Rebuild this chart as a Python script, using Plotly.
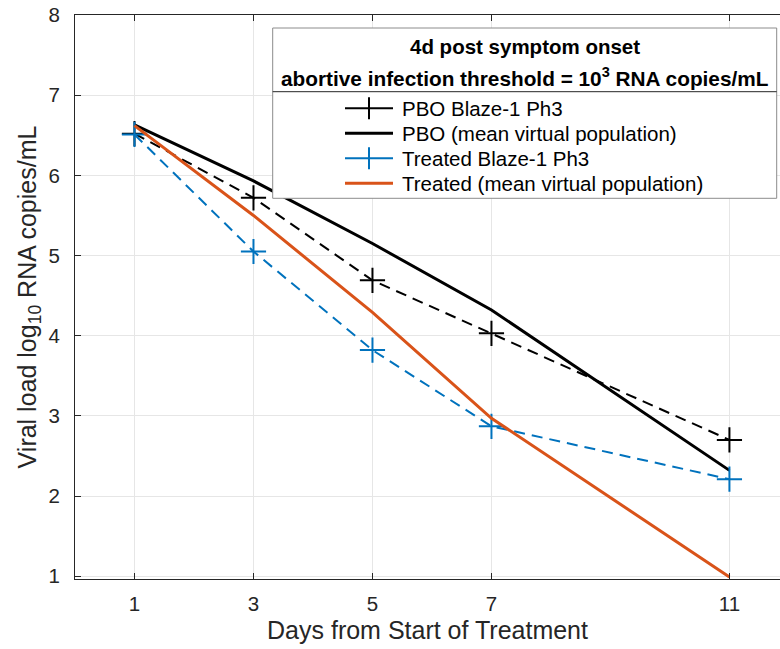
import plotly.graph_objects as go

days = [1, 3, 5, 7, 11]
pbo_trial = [6.52, 5.72, 4.69, 4.03, 2.70]
pbo_mean = [6.63, 5.93, 5.15, 4.32, 2.32]
trt_trial = [6.51, 5.05, 3.82, 2.87, 2.21]
trt_mean = [6.62, 5.50, 4.29, 2.97, 0.99]

x_ticks = [1, 3, 5, 7, 11]
y_ticks = [1, 2, 3, 4, 5, 6, 7, 8]

names = ["PBO Blaze-1 Ph3", "PBO (mean virtual population)",
         "Treated Blaze-1 Ph3", "Treated (mean virtual population)"]

BLUE = "#0072BD"
ORANGE = "#D95319"
AX = "#262626"
FONT = "Liberation Sans, Arial, Helvetica, sans-serif"
DASH = "11px,7px"

W, H = 780, 649
ML, MR, MT, MB = 75, 0, 15, 70
PW, PH = W - ML - MR, H - MT - MB


def px(xp):
    return (xp - ML) / PW


def py(yp):
    return (H - MB - yp) / PH


fig = go.Figure()
fig.add_trace(go.Scatter(
    x=days, y=pbo_trial, mode="lines+markers", name=names[0],
    line=dict(color="black", width=2, dash=DASH),
    marker=dict(symbol="cross-thin", size=18, line=dict(color="black", width=2)),
))
fig.add_trace(go.Scatter(
    x=days, y=pbo_mean, mode="lines", name=names[1],
    line=dict(color="black", width=3),
))
fig.add_trace(go.Scatter(
    x=days, y=trt_trial, mode="lines+markers", name=names[2],
    line=dict(color=BLUE, width=2, dash=DASH),
    marker=dict(symbol="cross-thin", size=18, color=BLUE, line=dict(color=BLUE, width=2)),
))
fig.add_trace(go.Scatter(
    x=days, y=trt_mean, mode="lines", name=names[3],
    line=dict(color=ORANGE, width=3),
))

# legend box, separator and title
x0, x1 = px(272.7), px(776.7)
fig.add_shape(type="rect", xref="paper", yref="paper", x0=x0, x1=x1,
              y0=py(198.3), y1=py(28), fillcolor="white",
              line=dict(color="#8c8c8c", width=1), layer="above")
fig.add_shape(type="line", xref="paper", yref="paper", x0=x0, x1=x1,
              y0=py(91.7), y1=py(91.7), line=dict(color="#262626", width=1),
              layer="above")
cx = (x0 + x1) / 2
fig.add_annotation(xref="paper", yref="paper", x=cx, y=py(46.7),
                   text="<b>4d post symptom onset</b>", showarrow=False,
                   font=dict(size=20.5, color="black", family=FONT),
                   xanchor="center", yanchor="middle")
fig.add_annotation(xref="paper", yref="paper", x=cx, y=py(76.7),
                   text="<b>abortive infection threshold = 10<sup>3</sup> RNA copies/mL</b>",
                   showarrow=False, font=dict(size=20.8, color="black", family=FONT),
                   xanchor="center", yanchor="middle")

# legend entries
entry_y = [108.3, 133.3, 158.3, 183.3]
entry_col = ["black", "black", BLUE, ORANGE]
entry_w = [2, 3, 2, 3]
entry_mark = [True, False, True, False]
for nm, yy, col, lw, mk in zip(names, entry_y, entry_col, entry_w, entry_mark):
    fig.add_shape(type="line", xref="paper", yref="paper",
                  x0=px(345), x1=px(393), y0=py(yy), y1=py(yy),
                  line=dict(color=col, width=lw), layer="above")
    if mk:
        fig.add_shape(type="line", xref="paper", yref="paper",
                      x0=px(369), x1=px(369), y0=py(yy - 11), y1=py(yy + 11),
                      line=dict(color=col, width=2), layer="above")
    fig.add_annotation(xref="paper", yref="paper", x=px(400), y=py(yy),
                       text=nm, showarrow=False, xanchor="left", yanchor="middle",
                       font=dict(size=20.5, color="black", family=FONT))

fig.update_layout(
    width=W, height=H,
    margin=dict(l=ML, r=MR, t=MT, b=MB),
    paper_bgcolor="white", plot_bgcolor="white",
    font=dict(family=FONT, color=AX),
    showlegend=False,
)
fig.update_xaxes(
    range=[0, 11.85], tickmode="array", tickvals=x_ticks,
    ticktext=[str(v) for v in x_ticks],
    showgrid=True, gridcolor="#e6e6e6", gridwidth=1,
    showline=True, linecolor=AX, linewidth=1, mirror="ticks",
    ticks="inside", ticklen=6, tickcolor=AX, ticklabelstandoff=6,
    tickfont=dict(size=20.5, color=AX, family=FONT),
    title=dict(text="Days from Start of Treatment",
               font=dict(size=25, color=AX, family=FONT), standoff=7),
    zeroline=False, automargin=False,
)
fig.update_yaxes(
    range=[0.965, 8], tickmode="array", tickvals=y_ticks,
    ticktext=[str(v) for v in y_ticks],
    showgrid=True, gridcolor="#e6e6e6", gridwidth=1,
    showline=True, linecolor=AX, linewidth=1, mirror=False,
    ticks="inside", ticklen=6, tickcolor=AX, ticklabelstandoff=10,
    tickfont=dict(size=20.5, color=AX, family=FONT),
    title=dict(text="Viral load log<sub>10</sub> RNA copies/mL",
               font=dict(size=25, color=AX, family=FONT), standoff=4),
    zeroline=False, automargin=False,
)

fig.write_html("out.html")
